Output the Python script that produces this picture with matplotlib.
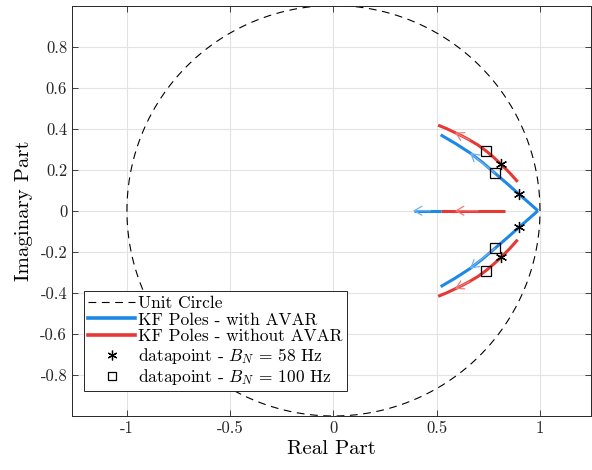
import numpy as np
import matplotlib
matplotlib.use("Agg")
import matplotlib.pyplot as plt
from matplotlib.lines import Line2D

plt.rcParams["font.family"] = "serif"
plt.rcParams["font.serif"] = ["cmr10"]
plt.rcParams["mathtext.fontset"] = "cm"
plt.rcParams["axes.unicode_minus"] = False
plt.rcParams["axes.formatter.use_mathtext"] = True

# pole loci (upper branch, lower branch is the conjugate)
with_avar_re = [0.99, 0.945, 0.898, 0.84, 0.782, 0.722, 0.661, 0.59, 0.519]
with_avar_im = [0.0, 0.04, 0.081, 0.133, 0.183, 0.235, 0.282, 0.328, 0.37]
without_avar_re = [0.892, 0.852, 0.811, 0.775, 0.738, 0.70, 0.66, 0.625, 0.588, 0.548, 0.507]
without_avar_im = [0.141, 0.186, 0.227, 0.261, 0.292, 0.32, 0.344, 0.363, 0.381, 0.40, 0.417]

# real-axis poles
with_avar_real = [0.52, 0.39]
without_avar_real = [0.83, 0.52]

# datapoints
pts58_re = [0.811, 0.898, 0.898, 0.811]
pts58_im = [0.227, 0.081, -0.081, -0.227]
pts100_re = [0.738, 0.782, 0.782, 0.738]
pts100_im = [0.292, 0.183, -0.183, -0.292]

blue = "#1E88E5"
red = "#E53935"

fig = plt.figure(figsize=(5.92, 4.70), dpi=100)
ax = fig.add_axes([72 / 592, 1 - 416 / 470, 519 / 592, 410.5 / 470])

th = np.linspace(0, 2 * np.pi, 400)
ax.plot(np.cos(th), np.sin(th), color="black", lw=0.8, ls=(0, (7, 5)), zorder=2)

bre = np.array(with_avar_re)
bim = np.array(with_avar_im)
rre = np.array(without_avar_re)
rim = np.array(without_avar_im)

for sgn in (1, -1):
    ax.plot(bre, sgn * bim, color=blue, lw=2.2, zorder=3, solid_capstyle="butt")
    ax.plot(rre, sgn * rim, color=red, lw=2.2, zorder=3, solid_capstyle="butt")
ax.plot(without_avar_real, [0, 0], color=red, lw=2.2, zorder=3, solid_capstyle="butt")
ax.plot(with_avar_real, [0, 0], color=blue, lw=2.2, zorder=3, solid_capstyle="butt")


def arrow(x, y, i, color):
    ax.annotate("", xy=(x[i], y[i]), xytext=(x[i - 2], y[i - 2]),
                arrowprops=dict(arrowstyle="->,head_length=0.55,head_width=0.32",
                                color=color, lw=0.9,
                                shrinkA=0, shrinkB=0), zorder=4)


for sgn in (1, -1):
    arrow(bre, sgn * bim, 6, "#6fb2ee")
    arrow(rre, sgn * rim, 8, "#ef7b78")
arrow(np.array([0.70, 0.65, 0.588]), np.zeros(3), 2, "#ef7b78")
arrow(np.array([0.47, 0.43, 0.385]), np.zeros(3), 2, "#6fb2ee")

ax.plot(pts58_re, pts58_im, ls="none", marker=(6, 2, 0), ms=8, color="black",
        mew=0.9, zorder=5)
ax.plot(pts100_re, pts100_im, ls="none", marker="s", ms=7, mfc="none",
        mec="black", mew=0.9, zorder=5)

ax.set_xlim(-1.266, 1.247)
ax.set_ylim(-1.0, 1.0)
ax.set_xticks([-1, -0.5, 0, 0.5, 1])
ax.set_xticklabels(["-1", "-0.5", "0", "0.5", "1"])
yt = [-0.8, -0.6, -0.4, -0.2, 0, 0.2, 0.4, 0.6, 0.8]
ax.set_yticks(yt)
ax.set_yticklabels(["-0.8", "-0.6", "-0.4", "-0.2", "0", "0.2", "0.4", "0.6", "0.8"])
ax.tick_params(direction="in", top=True, right=True, labelsize=12,
               length=4, width=0.6, colors="#262626")
ax.grid(True, color="#e3e3e3", lw=0.8)
ax.set_axisbelow(True)
for s in ax.spines.values():
    s.set_color("#262626")
    s.set_linewidth(0.7)

ax.set_xlabel("Real Part", fontsize=15, labelpad=3)
ax.set_ylabel("Imaginary Part", fontsize=15, labelpad=5)

handles = [
    Line2D([], [], color="black", lw=0.8, ls=(0, (7, 5))),
    Line2D([], [], color=blue, lw=2.6),
    Line2D([], [], color=red, lw=2.6),
    Line2D([], [], ls="none", marker=(6, 2, 0), ms=7, color="black", mew=0.9),
    Line2D([], [], ls="none", marker="s", ms=6, mfc="none", mec="black", mew=0.9),
]
labels = [
    "Unit Circle",
    "KF Poles - with AVAR",
    "KF Poles - without AVAR",
    r"datapoint - $B_N$ = 58 Hz",
    r"datapoint - $B_N$ = 100 Hz",
]
leg = ax.legend(handles, labels, loc="lower left", bbox_to_anchor=(0.023, 0.06),
                fontsize=12.5, handlelength=2.7, handletextpad=0.15,
                labelspacing=0.08, borderpad=0.25, borderaxespad=0,
                fancybox=False, framealpha=1, edgecolor="#262626")
leg.get_frame().set_linewidth(0.7)

fig.savefig("out.png", dpi=100)
